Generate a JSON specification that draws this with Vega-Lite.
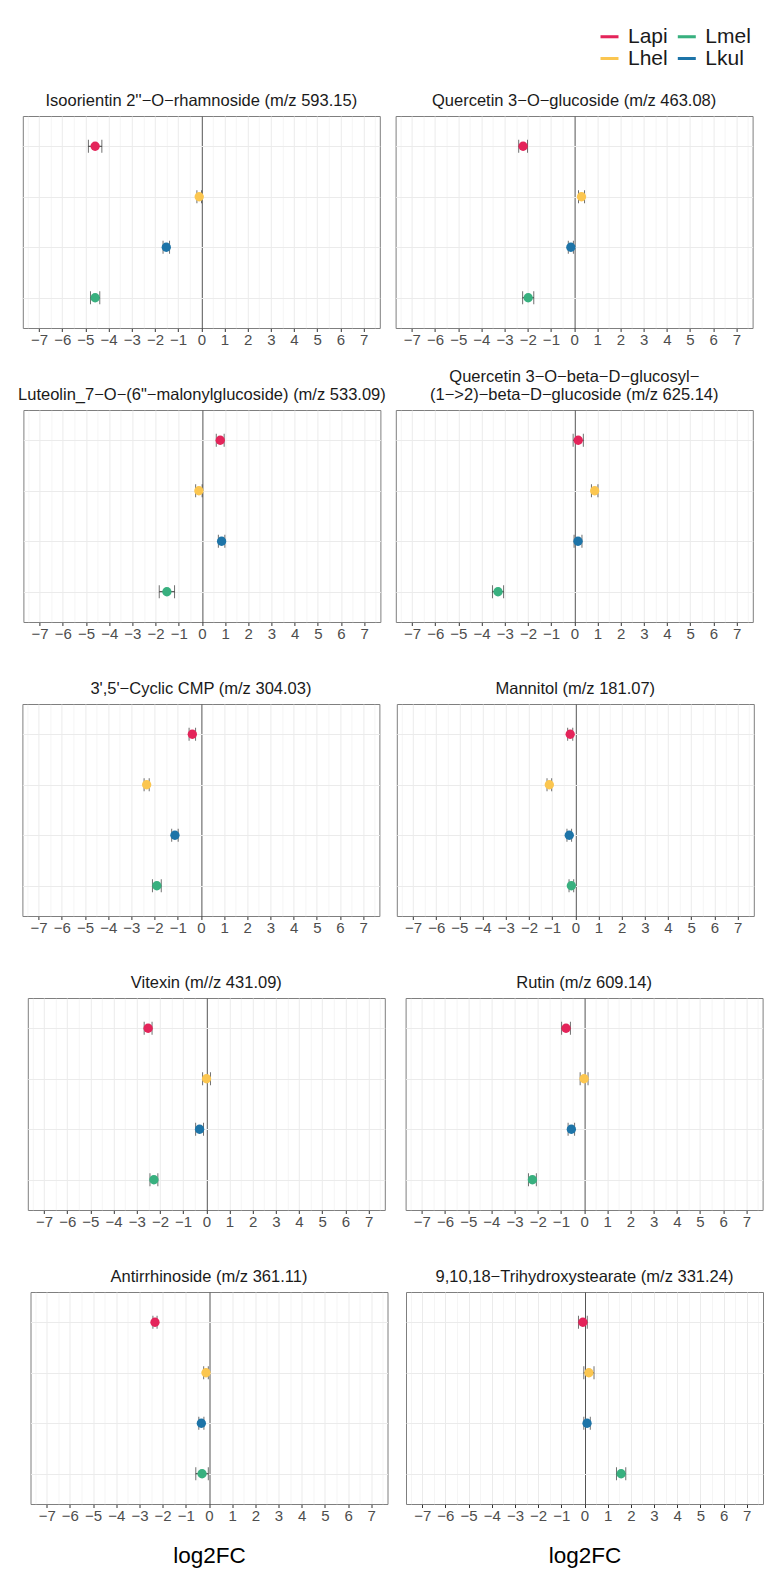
{
  "$schema": "https://vega.github.io/schema/vega-lite/v6.json",
  "background": "white",
  "padding": {"top": 26, "left": 0, "right": 0, "bottom": 0},
  "config": {
    "font": "Liberation Sans",
    "view": {"stroke": "#7f7f7f", "strokeWidth": 1},
    "title": {"fontSize": 16.5, "fontWeight": "normal", "color": "#1a1a1a", "anchor": "middle", "offset": 7, "lineHeight": 18},
    "axisX": {"labelFontSize": 15, "labelColor": "#4d4d4d", "labelPadding": 1, "labelOverlap": false, "labelFlush": false, "tickSize": 3.5, "domain": false, "titleFontSize": 22.5, "titleFontWeight": "normal", "titleColor": "#000000", "titlePadding": 21},
    "axisY": {"labels": false, "ticks": false, "domain": false, "grid": true, "gridColor": "#ebebeb", "gridWidth": 1, "minExtent": 0, "maxExtent": 0}
  },
  "datasets": {
    "fc": [
      {"p": 1, "group": "Lapi", "fc": -4.58, "lo": -4.87, "hi": -4.29},
      {"p": 1, "group": "Lhel", "fc": -0.09, "lo": -0.19, "hi": 0.01},
      {"p": 1, "group": "Lkul", "fc": -1.51, "lo": -1.65, "hi": -1.37},
      {"p": 1, "group": "Lmel", "fc": -4.58, "lo": -4.78, "hi": -4.38},
      {"p": 2, "group": "Lapi", "fc": -2.2, "lo": -2.39, "hi": -2.01},
      {"p": 2, "group": "Lhel", "fc": 0.32, "lo": 0.19, "hi": 0.45},
      {"p": 2, "group": "Lkul", "fc": -0.14, "lo": -0.25, "hi": -0.03},
      {"p": 2, "group": "Lmel", "fc": -1.98, "lo": -2.22, "hi": -1.74},
      {"p": 3, "group": "Lapi", "fc": 0.79, "lo": 0.62, "hi": 0.96},
      {"p": 3, "group": "Lhel", "fc": -0.13, "lo": -0.27, "hi": 0.01},
      {"p": 3, "group": "Lkul", "fc": 0.85, "lo": 0.71, "hi": 0.99},
      {"p": 3, "group": "Lmel", "fc": -1.51, "lo": -1.84, "hi": -1.18},
      {"p": 4, "group": "Lapi", "fc": 0.17, "lo": -0.05, "hi": 0.39},
      {"p": 4, "group": "Lhel", "fc": 0.88, "lo": 0.74, "hi": 1.02},
      {"p": 4, "group": "Lkul", "fc": 0.16, "lo": -0.01, "hi": 0.33},
      {"p": 4, "group": "Lmel", "fc": -3.29, "lo": -3.53, "hi": -3.05},
      {"p": 5, "group": "Lapi", "fc": -0.37, "lo": -0.51, "hi": -0.23},
      {"p": 5, "group": "Lhel", "fc": -2.34, "lo": -2.45, "hi": -2.23},
      {"p": 5, "group": "Lkul", "fc": -1.12, "lo": -1.26, "hi": -0.98},
      {"p": 5, "group": "Lmel", "fc": -1.9, "lo": -2.09, "hi": -1.71},
      {"p": 6, "group": "Lapi", "fc": -0.22, "lo": -0.33, "hi": -0.11},
      {"p": 6, "group": "Lhel", "fc": -1.12, "lo": -1.22, "hi": -1.02},
      {"p": 6, "group": "Lkul", "fc": -0.26, "lo": -0.36, "hi": -0.16},
      {"p": 6, "group": "Lmel", "fc": -0.17, "lo": -0.27, "hi": -0.07},
      {"p": 7, "group": "Lapi", "fc": -2.51, "lo": -2.68, "hi": -2.34},
      {"p": 7, "group": "Lhel", "fc": 0.01, "lo": -0.16, "hi": 0.18},
      {"p": 7, "group": "Lkul", "fc": -0.29, "lo": -0.46, "hi": -0.12},
      {"p": 7, "group": "Lmel", "fc": -2.26, "lo": -2.43, "hi": -2.09},
      {"p": 8, "group": "Lapi", "fc": -0.78, "lo": -0.97, "hi": -0.59},
      {"p": 8, "group": "Lhel", "fc": 0.0, "lo": -0.17, "hi": 0.17},
      {"p": 8, "group": "Lkul", "fc": -0.55, "lo": -0.69, "hi": -0.41},
      {"p": 8, "group": "Lmel", "fc": -2.23, "lo": -2.4, "hi": -2.06},
      {"p": 9, "group": "Lapi", "fc": -2.33, "lo": -2.42, "hi": -2.24},
      {"p": 9, "group": "Lhel", "fc": -0.13, "lo": -0.23, "hi": -0.03},
      {"p": 9, "group": "Lkul", "fc": -0.33, "lo": -0.44, "hi": -0.22},
      {"p": 9, "group": "Lmel", "fc": -0.3, "lo": -0.57, "hi": -0.03},
      {"p": 10, "group": "Lapi", "fc": -0.07, "lo": -0.26, "hi": 0.12},
      {"p": 10, "group": "Lhel", "fc": 0.19, "lo": -0.03, "hi": 0.41},
      {"p": 10, "group": "Lkul", "fc": 0.11, "lo": -0.03, "hi": 0.25},
      {"p": 10, "group": "Lmel", "fc": 1.58, "lo": 1.38, "hi": 1.78}
    ],
    "blank": [{"k": 0}]
  },
  "resolve": {"scale": {"color": "shared"}, "legend": {"color": "shared"}},
  "spacing": 20,
  "vconcat": [
    {
      "spacing": 13.8,
      "hconcat": [
        {"width": 7.2, "height": 212, "data": {"name": "blank"}, "mark": {"type": "point", "opacity": 0}, "encoding": {}, "view": {"stroke": null}},
        {
          "width": 357, "height": 212,
          "title": {"text": ["", "Isoorientin 2''−O−rhamnoside (m/z 593.15)"]},
          "data": {"name": "fc"},
          "transform": [{"filter": "datum.p == 1"}],
          "layer": [
            {"mark": {"type": "errorbar", "ticks": true, "size": 13, "thickness": 1, "color": "#333333"},
             "encoding": {
               "x": {"field": "lo", "type": "quantitative", "scale": {"domain": [-7.7, 7.7], "nice": false, "zero": false},
                     "axis": {"title": null, "values": [-7.5,-7,-6.5,-6,-5.5,-5,-4.5,-4,-3.5,-3,-2.5,-2,-1.5,-1,-0.5,0,0.5,1,1.5,2,2.5,3,3.5,4,4.5,5,5.5,6,6.5,7,7.5],
                              "labelExpr": "datum.value % 1 == 0 ? replace(format(datum.value, 'd'), '-', '−') : ''",
                              "tickColor": {"condition": {"test": "datum.value % 1 != 0", "value": "transparent"}, "value": "#333333"},
                              "gridColor": {"condition": {"test": "datum.value == 0", "value": "#555555"}, "value": "#ebebeb"},
                              "gridWidth": {"condition": {"test": "datum.value % 1 != 0", "value": 0.5}, "value": 1}}},
               "x2": {"field": "hi"},
               "y": {"field": "group", "type": "nominal", "sort": ["Lapi", "Lhel", "Lkul", "Lmel"], "scale": {"type": "point", "padding": 0.6}, "axis": {"title": null}}}},
            {"mark": {"type": "circle", "size": 87, "opacity": 1},
             "encoding": {
               "x": {"field": "fc", "type": "quantitative", "scale": {"domain": [-7.7, 7.7], "nice": false, "zero": false},
                     "axis": {"title": null, "values": [-7.5,-7,-6.5,-6,-5.5,-5,-4.5,-4,-3.5,-3,-2.5,-2,-1.5,-1,-0.5,0,0.5,1,1.5,2,2.5,3,3.5,4,4.5,5,5.5,6,6.5,7,7.5],
                              "labelExpr": "datum.value % 1 == 0 ? replace(format(datum.value, 'd'), '-', '−') : ''",
                              "tickColor": {"condition": {"test": "datum.value % 1 != 0", "value": "transparent"}, "value": "#333333"},
                              "gridColor": {"condition": {"test": "datum.value == 0", "value": "#555555"}, "value": "#ebebeb"},
                              "gridWidth": {"condition": {"test": "datum.value % 1 != 0", "value": 0.5}, "value": 1}}},
               "y": {"field": "group", "type": "nominal", "sort": ["Lapi", "Lhel", "Lkul", "Lmel"], "scale": {"type": "point", "padding": 0.6}, "axis": {"title": null}},
               "color": {"field": "group", "type": "nominal",
                         "scale": {"domain": ["Lapi", "Lhel", "Lmel", "Lkul"], "range": ["#E4245A", "#FBC650", "#38B07F", "#1D74A8"]},
                         "legend": {"orient": "none", "legendX": 599, "legendY": -90, "columns": 2, "title": null, "padding": 0, "values": ["Lapi", "Lhel", "Lmel", "Lkul"],
                                    "symbolType": "M-1,-0.17H1V0.17H-1Z", "symbolSize": 324, "symbolStrokeWidth": 0, "labelFontSize": 21, "labelColor": "#1a1a1a", "labelOffset": 8, "columnPadding": 8.3, "rowPadding": 0}}
             }}
          ]
        },
        {
          "width": 357, "height": 212,
          "title": {"text": ["", "Quercetin 3−O−glucoside (m/z 463.08)"]},
          "data": {"name": "fc"},
          "transform": [{"filter": "datum.p == 2"}],
          "layer": [
            {"mark": {"type": "errorbar", "ticks": true, "size": 13, "thickness": 1, "color": "#333333"},
             "encoding": {
               "x": {"field": "lo", "type": "quantitative", "scale": {"domain": [-7.7, 7.7], "nice": false, "zero": false},
                     "axis": {"title": null, "values": [-7.5,-7,-6.5,-6,-5.5,-5,-4.5,-4,-3.5,-3,-2.5,-2,-1.5,-1,-0.5,0,0.5,1,1.5,2,2.5,3,3.5,4,4.5,5,5.5,6,6.5,7,7.5],
                              "labelExpr": "datum.value % 1 == 0 ? replace(format(datum.value, 'd'), '-', '−') : ''",
                              "tickColor": {"condition": {"test": "datum.value % 1 != 0", "value": "transparent"}, "value": "#333333"},
                              "gridColor": {"condition": {"test": "datum.value == 0", "value": "#555555"}, "value": "#ebebeb"},
                              "gridWidth": {"condition": {"test": "datum.value % 1 != 0", "value": 0.5}, "value": 1}}},
               "x2": {"field": "hi"},
               "y": {"field": "group", "type": "nominal", "sort": ["Lapi", "Lhel", "Lkul", "Lmel"], "scale": {"type": "point", "padding": 0.6}, "axis": {"title": null}}}},
            {"mark": {"type": "circle", "size": 87, "opacity": 1},
             "encoding": {
               "x": {"field": "fc", "type": "quantitative", "scale": {"domain": [-7.7, 7.7], "nice": false, "zero": false},
                     "axis": {"title": null, "values": [-7.5,-7,-6.5,-6,-5.5,-5,-4.5,-4,-3.5,-3,-2.5,-2,-1.5,-1,-0.5,0,0.5,1,1.5,2,2.5,3,3.5,4,4.5,5,5.5,6,6.5,7,7.5],
                              "labelExpr": "datum.value % 1 == 0 ? replace(format(datum.value, 'd'), '-', '−') : ''",
                              "tickColor": {"condition": {"test": "datum.value % 1 != 0", "value": "transparent"}, "value": "#333333"},
                              "gridColor": {"condition": {"test": "datum.value == 0", "value": "#555555"}, "value": "#ebebeb"},
                              "gridWidth": {"condition": {"test": "datum.value % 1 != 0", "value": 0.5}, "value": 1}}},
               "y": {"field": "group", "type": "nominal", "sort": ["Lapi", "Lhel", "Lkul", "Lmel"], "scale": {"type": "point", "padding": 0.6}, "axis": {"title": null}},
               "color": {"field": "group", "type": "nominal", "legend": null}
             }}
          ]
        }
      ]
    },
    {
      "spacing": 8.4,
      "hconcat": [
        {"width": 9.0, "height": 212, "data": {"name": "blank"}, "mark": {"type": "point", "opacity": 0}, "encoding": {}, "view": {"stroke": null}},
        {
          "width": 357, "height": 212,
          "title": {"text": ["", "Luteolin_7−O−(6\"−malonylglucoside) (m/z 533.09)"]},
          "data": {"name": "fc"},
          "transform": [{"filter": "datum.p == 3"}],
          "layer": [
            {"mark": {"type": "errorbar", "ticks": true, "size": 13, "thickness": 1, "color": "#333333"},
             "encoding": {
               "x": {"field": "lo", "type": "quantitative", "scale": {"domain": [-7.7, 7.7], "nice": false, "zero": false},
                     "axis": {"title": null, "values": [-7.5,-7,-6.5,-6,-5.5,-5,-4.5,-4,-3.5,-3,-2.5,-2,-1.5,-1,-0.5,0,0.5,1,1.5,2,2.5,3,3.5,4,4.5,5,5.5,6,6.5,7,7.5],
                              "labelExpr": "datum.value % 1 == 0 ? replace(format(datum.value, 'd'), '-', '−') : ''",
                              "tickColor": {"condition": {"test": "datum.value % 1 != 0", "value": "transparent"}, "value": "#333333"},
                              "gridColor": {"condition": {"test": "datum.value == 0", "value": "#555555"}, "value": "#ebebeb"},
                              "gridWidth": {"condition": {"test": "datum.value % 1 != 0", "value": 0.5}, "value": 1}}},
               "x2": {"field": "hi"},
               "y": {"field": "group", "type": "nominal", "sort": ["Lapi", "Lhel", "Lkul", "Lmel"], "scale": {"type": "point", "padding": 0.6}, "axis": {"title": null}}}},
            {"mark": {"type": "circle", "size": 87, "opacity": 1},
             "encoding": {
               "x": {"field": "fc", "type": "quantitative", "scale": {"domain": [-7.7, 7.7], "nice": false, "zero": false},
                     "axis": {"title": null, "values": [-7.5,-7,-6.5,-6,-5.5,-5,-4.5,-4,-3.5,-3,-2.5,-2,-1.5,-1,-0.5,0,0.5,1,1.5,2,2.5,3,3.5,4,4.5,5,5.5,6,6.5,7,7.5],
                              "labelExpr": "datum.value % 1 == 0 ? replace(format(datum.value, 'd'), '-', '−') : ''",
                              "tickColor": {"condition": {"test": "datum.value % 1 != 0", "value": "transparent"}, "value": "#333333"},
                              "gridColor": {"condition": {"test": "datum.value == 0", "value": "#555555"}, "value": "#ebebeb"},
                              "gridWidth": {"condition": {"test": "datum.value % 1 != 0", "value": 0.5}, "value": 1}}},
               "y": {"field": "group", "type": "nominal", "sort": ["Lapi", "Lhel", "Lkul", "Lmel"], "scale": {"type": "point", "padding": 0.6}, "axis": {"title": null}},
               "color": {"field": "group", "type": "nominal", "legend": null}
             }}
          ]
        },
        {
          "width": 357, "height": 212,
          "title": {"text": ["Quercetin 3−O−beta−D−glucosyl−", "(1−>2)−beta−D−glucoside (m/z 625.14)"]},
          "data": {"name": "fc"},
          "transform": [{"filter": "datum.p == 4"}],
          "layer": [
            {"mark": {"type": "errorbar", "ticks": true, "size": 13, "thickness": 1, "color": "#333333"},
             "encoding": {
               "x": {"field": "lo", "type": "quantitative", "scale": {"domain": [-7.7, 7.7], "nice": false, "zero": false},
                     "axis": {"title": null, "values": [-7.5,-7,-6.5,-6,-5.5,-5,-4.5,-4,-3.5,-3,-2.5,-2,-1.5,-1,-0.5,0,0.5,1,1.5,2,2.5,3,3.5,4,4.5,5,5.5,6,6.5,7,7.5],
                              "labelExpr": "datum.value % 1 == 0 ? replace(format(datum.value, 'd'), '-', '−') : ''",
                              "tickColor": {"condition": {"test": "datum.value % 1 != 0", "value": "transparent"}, "value": "#333333"},
                              "gridColor": {"condition": {"test": "datum.value == 0", "value": "#555555"}, "value": "#ebebeb"},
                              "gridWidth": {"condition": {"test": "datum.value % 1 != 0", "value": 0.5}, "value": 1}}},
               "x2": {"field": "hi"},
               "y": {"field": "group", "type": "nominal", "sort": ["Lapi", "Lhel", "Lkul", "Lmel"], "scale": {"type": "point", "padding": 0.6}, "axis": {"title": null}}}},
            {"mark": {"type": "circle", "size": 87, "opacity": 1},
             "encoding": {
               "x": {"field": "fc", "type": "quantitative", "scale": {"domain": [-7.7, 7.7], "nice": false, "zero": false},
                     "axis": {"title": null, "values": [-7.5,-7,-6.5,-6,-5.5,-5,-4.5,-4,-3.5,-3,-2.5,-2,-1.5,-1,-0.5,0,0.5,1,1.5,2,2.5,3,3.5,4,4.5,5,5.5,6,6.5,7,7.5],
                              "labelExpr": "datum.value % 1 == 0 ? replace(format(datum.value, 'd'), '-', '−') : ''",
                              "tickColor": {"condition": {"test": "datum.value % 1 != 0", "value": "transparent"}, "value": "#333333"},
                              "gridColor": {"condition": {"test": "datum.value == 0", "value": "#555555"}, "value": "#ebebeb"},
                              "gridWidth": {"condition": {"test": "datum.value % 1 != 0", "value": 0.5}, "value": 1}}},
               "y": {"field": "group", "type": "nominal", "sort": ["Lapi", "Lhel", "Lkul", "Lmel"], "scale": {"type": "point", "padding": 0.6}, "axis": {"title": null}},
               "color": {"field": "group", "type": "nominal", "legend": null}
             }}
          ]
        }
      ]
    },
    {
      "spacing": 15.4,
      "hconcat": [
        {"width": 6.0, "height": 212, "data": {"name": "blank"}, "mark": {"type": "point", "opacity": 0}, "encoding": {}, "view": {"stroke": null}},
        {
          "width": 357, "height": 212,
          "title": {"text": ["", "3',5'−Cyclic CMP (m/z 304.03)"]},
          "data": {"name": "fc"},
          "transform": [{"filter": "datum.p == 5"}],
          "layer": [
            {"mark": {"type": "errorbar", "ticks": true, "size": 13, "thickness": 1, "color": "#333333"},
             "encoding": {
               "x": {"field": "lo", "type": "quantitative", "scale": {"domain": [-7.7, 7.7], "nice": false, "zero": false},
                     "axis": {"title": null, "values": [-7.5,-7,-6.5,-6,-5.5,-5,-4.5,-4,-3.5,-3,-2.5,-2,-1.5,-1,-0.5,0,0.5,1,1.5,2,2.5,3,3.5,4,4.5,5,5.5,6,6.5,7,7.5],
                              "labelExpr": "datum.value % 1 == 0 ? replace(format(datum.value, 'd'), '-', '−') : ''",
                              "tickColor": {"condition": {"test": "datum.value % 1 != 0", "value": "transparent"}, "value": "#333333"},
                              "gridColor": {"condition": {"test": "datum.value == 0", "value": "#555555"}, "value": "#ebebeb"},
                              "gridWidth": {"condition": {"test": "datum.value % 1 != 0", "value": 0.5}, "value": 1}}},
               "x2": {"field": "hi"},
               "y": {"field": "group", "type": "nominal", "sort": ["Lapi", "Lhel", "Lkul", "Lmel"], "scale": {"type": "point", "padding": 0.6}, "axis": {"title": null}}}},
            {"mark": {"type": "circle", "size": 87, "opacity": 1},
             "encoding": {
               "x": {"field": "fc", "type": "quantitative", "scale": {"domain": [-7.7, 7.7], "nice": false, "zero": false},
                     "axis": {"title": null, "values": [-7.5,-7,-6.5,-6,-5.5,-5,-4.5,-4,-3.5,-3,-2.5,-2,-1.5,-1,-0.5,0,0.5,1,1.5,2,2.5,3,3.5,4,4.5,5,5.5,6,6.5,7,7.5],
                              "labelExpr": "datum.value % 1 == 0 ? replace(format(datum.value, 'd'), '-', '−') : ''",
                              "tickColor": {"condition": {"test": "datum.value % 1 != 0", "value": "transparent"}, "value": "#333333"},
                              "gridColor": {"condition": {"test": "datum.value == 0", "value": "#555555"}, "value": "#ebebeb"},
                              "gridWidth": {"condition": {"test": "datum.value % 1 != 0", "value": 0.5}, "value": 1}}},
               "y": {"field": "group", "type": "nominal", "sort": ["Lapi", "Lhel", "Lkul", "Lmel"], "scale": {"type": "point", "padding": 0.6}, "axis": {"title": null}},
               "color": {"field": "group", "type": "nominal", "legend": null}
             }}
          ]
        },
        {
          "width": 357, "height": 212,
          "title": {"text": ["", "Mannitol (m/z 181.07)"]},
          "data": {"name": "fc"},
          "transform": [{"filter": "datum.p == 6"}],
          "layer": [
            {"mark": {"type": "errorbar", "ticks": true, "size": 13, "thickness": 1, "color": "#333333"},
             "encoding": {
               "x": {"field": "lo", "type": "quantitative", "scale": {"domain": [-7.7, 7.7], "nice": false, "zero": false},
                     "axis": {"title": null, "values": [-7.5,-7,-6.5,-6,-5.5,-5,-4.5,-4,-3.5,-3,-2.5,-2,-1.5,-1,-0.5,0,0.5,1,1.5,2,2.5,3,3.5,4,4.5,5,5.5,6,6.5,7,7.5],
                              "labelExpr": "datum.value % 1 == 0 ? replace(format(datum.value, 'd'), '-', '−') : ''",
                              "tickColor": {"condition": {"test": "datum.value % 1 != 0", "value": "transparent"}, "value": "#333333"},
                              "gridColor": {"condition": {"test": "datum.value == 0", "value": "#555555"}, "value": "#ebebeb"},
                              "gridWidth": {"condition": {"test": "datum.value % 1 != 0", "value": 0.5}, "value": 1}}},
               "x2": {"field": "hi"},
               "y": {"field": "group", "type": "nominal", "sort": ["Lapi", "Lhel", "Lkul", "Lmel"], "scale": {"type": "point", "padding": 0.6}, "axis": {"title": null}}}},
            {"mark": {"type": "circle", "size": 87, "opacity": 1},
             "encoding": {
               "x": {"field": "fc", "type": "quantitative", "scale": {"domain": [-7.7, 7.7], "nice": false, "zero": false},
                     "axis": {"title": null, "values": [-7.5,-7,-6.5,-6,-5.5,-5,-4.5,-4,-3.5,-3,-2.5,-2,-1.5,-1,-0.5,0,0.5,1,1.5,2,2.5,3,3.5,4,4.5,5,5.5,6,6.5,7,7.5],
                              "labelExpr": "datum.value % 1 == 0 ? replace(format(datum.value, 'd'), '-', '−') : ''",
                              "tickColor": {"condition": {"test": "datum.value % 1 != 0", "value": "transparent"}, "value": "#333333"},
                              "gridColor": {"condition": {"test": "datum.value == 0", "value": "#555555"}, "value": "#ebebeb"},
                              "gridWidth": {"condition": {"test": "datum.value % 1 != 0", "value": 0.5}, "value": 1}}},
               "y": {"field": "group", "type": "nominal", "sort": ["Lapi", "Lhel", "Lkul", "Lmel"], "scale": {"type": "point", "padding": 0.6}, "axis": {"title": null}},
               "color": {"field": "group", "type": "nominal", "legend": null}
             }}
          ]
        }
      ]
    },
    {
      "spacing": 18.8,
      "hconcat": [
        {"width": 7.6, "height": 212, "data": {"name": "blank"}, "mark": {"type": "point", "opacity": 0}, "encoding": {}, "view": {"stroke": null}},
        {
          "width": 357, "height": 212,
          "title": {"text": ["", "Vitexin (m//z 431.09)"]},
          "data": {"name": "fc"},
          "transform": [{"filter": "datum.p == 7"}],
          "layer": [
            {"mark": {"type": "errorbar", "ticks": true, "size": 13, "thickness": 1, "color": "#333333"},
             "encoding": {
               "x": {"field": "lo", "type": "quantitative", "scale": {"domain": [-7.7, 7.7], "nice": false, "zero": false},
                     "axis": {"title": null, "values": [-7.5,-7,-6.5,-6,-5.5,-5,-4.5,-4,-3.5,-3,-2.5,-2,-1.5,-1,-0.5,0,0.5,1,1.5,2,2.5,3,3.5,4,4.5,5,5.5,6,6.5,7,7.5],
                              "labelExpr": "datum.value % 1 == 0 ? replace(format(datum.value, 'd'), '-', '−') : ''",
                              "tickColor": {"condition": {"test": "datum.value % 1 != 0", "value": "transparent"}, "value": "#333333"},
                              "gridColor": {"condition": {"test": "datum.value == 0", "value": "#555555"}, "value": "#ebebeb"},
                              "gridWidth": {"condition": {"test": "datum.value % 1 != 0", "value": 0.5}, "value": 1}}},
               "x2": {"field": "hi"},
               "y": {"field": "group", "type": "nominal", "sort": ["Lapi", "Lhel", "Lkul", "Lmel"], "scale": {"type": "point", "padding": 0.6}, "axis": {"title": null}}}},
            {"mark": {"type": "circle", "size": 87, "opacity": 1},
             "encoding": {
               "x": {"field": "fc", "type": "quantitative", "scale": {"domain": [-7.7, 7.7], "nice": false, "zero": false},
                     "axis": {"title": null, "values": [-7.5,-7,-6.5,-6,-5.5,-5,-4.5,-4,-3.5,-3,-2.5,-2,-1.5,-1,-0.5,0,0.5,1,1.5,2,2.5,3,3.5,4,4.5,5,5.5,6,6.5,7,7.5],
                              "labelExpr": "datum.value % 1 == 0 ? replace(format(datum.value, 'd'), '-', '−') : ''",
                              "tickColor": {"condition": {"test": "datum.value % 1 != 0", "value": "transparent"}, "value": "#333333"},
                              "gridColor": {"condition": {"test": "datum.value == 0", "value": "#555555"}, "value": "#ebebeb"},
                              "gridWidth": {"condition": {"test": "datum.value % 1 != 0", "value": 0.5}, "value": 1}}},
               "y": {"field": "group", "type": "nominal", "sort": ["Lapi", "Lhel", "Lkul", "Lmel"], "scale": {"type": "point", "padding": 0.6}, "axis": {"title": null}},
               "color": {"field": "group", "type": "nominal", "legend": null}
             }}
          ]
        },
        {
          "width": 357, "height": 212,
          "title": {"text": ["", "Rutin (m/z 609.14)"]},
          "data": {"name": "fc"},
          "transform": [{"filter": "datum.p == 8"}],
          "layer": [
            {"mark": {"type": "errorbar", "ticks": true, "size": 13, "thickness": 1, "color": "#333333"},
             "encoding": {
               "x": {"field": "lo", "type": "quantitative", "scale": {"domain": [-7.7, 7.7], "nice": false, "zero": false},
                     "axis": {"title": null, "values": [-7.5,-7,-6.5,-6,-5.5,-5,-4.5,-4,-3.5,-3,-2.5,-2,-1.5,-1,-0.5,0,0.5,1,1.5,2,2.5,3,3.5,4,4.5,5,5.5,6,6.5,7,7.5],
                              "labelExpr": "datum.value % 1 == 0 ? replace(format(datum.value, 'd'), '-', '−') : ''",
                              "tickColor": {"condition": {"test": "datum.value % 1 != 0", "value": "transparent"}, "value": "#333333"},
                              "gridColor": {"condition": {"test": "datum.value == 0", "value": "#555555"}, "value": "#ebebeb"},
                              "gridWidth": {"condition": {"test": "datum.value % 1 != 0", "value": 0.5}, "value": 1}}},
               "x2": {"field": "hi"},
               "y": {"field": "group", "type": "nominal", "sort": ["Lapi", "Lhel", "Lkul", "Lmel"], "scale": {"type": "point", "padding": 0.6}, "axis": {"title": null}}}},
            {"mark": {"type": "circle", "size": 87, "opacity": 1},
             "encoding": {
               "x": {"field": "fc", "type": "quantitative", "scale": {"domain": [-7.7, 7.7], "nice": false, "zero": false},
                     "axis": {"title": null, "values": [-7.5,-7,-6.5,-6,-5.5,-5,-4.5,-4,-3.5,-3,-2.5,-2,-1.5,-1,-0.5,0,0.5,1,1.5,2,2.5,3,3.5,4,4.5,5,5.5,6,6.5,7,7.5],
                              "labelExpr": "datum.value % 1 == 0 ? replace(format(datum.value, 'd'), '-', '−') : ''",
                              "tickColor": {"condition": {"test": "datum.value % 1 != 0", "value": "transparent"}, "value": "#333333"},
                              "gridColor": {"condition": {"test": "datum.value == 0", "value": "#555555"}, "value": "#ebebeb"},
                              "gridWidth": {"condition": {"test": "datum.value % 1 != 0", "value": 0.5}, "value": 1}}},
               "y": {"field": "group", "type": "nominal", "sort": ["Lapi", "Lhel", "Lkul", "Lmel"], "scale": {"type": "point", "padding": 0.6}, "axis": {"title": null}},
               "color": {"field": "group", "type": "nominal", "legend": null}
             }}
          ]
        }
      ]
    },
    {
      "spacing": 16.5,
      "hconcat": [
        {"width": 12.2, "height": 212, "data": {"name": "blank"}, "mark": {"type": "point", "opacity": 0}, "encoding": {}, "view": {"stroke": null}},
        {
          "width": 357, "height": 212,
          "title": {"text": ["", "Antirrhinoside (m/z 361.11)"]},
          "data": {"name": "fc"},
          "transform": [{"filter": "datum.p == 9"}],
          "layer": [
            {"mark": {"type": "errorbar", "ticks": true, "size": 13, "thickness": 1, "color": "#333333"},
             "encoding": {
               "x": {"field": "lo", "type": "quantitative", "scale": {"domain": [-7.7, 7.7], "nice": false, "zero": false},
                     "axis": {"title": "log2FC", "values": [-7.5,-7,-6.5,-6,-5.5,-5,-4.5,-4,-3.5,-3,-2.5,-2,-1.5,-1,-0.5,0,0.5,1,1.5,2,2.5,3,3.5,4,4.5,5,5.5,6,6.5,7,7.5],
                              "labelExpr": "datum.value % 1 == 0 ? replace(format(datum.value, 'd'), '-', '−') : ''",
                              "tickColor": {"condition": {"test": "datum.value % 1 != 0", "value": "transparent"}, "value": "#333333"},
                              "gridColor": {"condition": {"test": "datum.value == 0", "value": "#555555"}, "value": "#ebebeb"},
                              "gridWidth": {"condition": {"test": "datum.value % 1 != 0", "value": 0.5}, "value": 1}}},
               "x2": {"field": "hi"},
               "y": {"field": "group", "type": "nominal", "sort": ["Lapi", "Lhel", "Lkul", "Lmel"], "scale": {"type": "point", "padding": 0.6}, "axis": {"title": null}}}},
            {"mark": {"type": "circle", "size": 87, "opacity": 1},
             "encoding": {
               "x": {"field": "fc", "type": "quantitative", "scale": {"domain": [-7.7, 7.7], "nice": false, "zero": false},
                     "axis": {"title": "log2FC", "values": [-7.5,-7,-6.5,-6,-5.5,-5,-4.5,-4,-3.5,-3,-2.5,-2,-1.5,-1,-0.5,0,0.5,1,1.5,2,2.5,3,3.5,4,4.5,5,5.5,6,6.5,7,7.5],
                              "labelExpr": "datum.value % 1 == 0 ? replace(format(datum.value, 'd'), '-', '−') : ''",
                              "tickColor": {"condition": {"test": "datum.value % 1 != 0", "value": "transparent"}, "value": "#333333"},
                              "gridColor": {"condition": {"test": "datum.value == 0", "value": "#555555"}, "value": "#ebebeb"},
                              "gridWidth": {"condition": {"test": "datum.value % 1 != 0", "value": 0.5}, "value": 1}}},
               "y": {"field": "group", "type": "nominal", "sort": ["Lapi", "Lhel", "Lkul", "Lmel"], "scale": {"type": "point", "padding": 0.6}, "axis": {"title": null}},
               "color": {"field": "group", "type": "nominal", "legend": null}
             }}
          ]
        },
        {
          "width": 357, "height": 212,
          "title": {"text": ["", "9,10,18−Trihydroxystearate (m/z 331.24)"]},
          "data": {"name": "fc"},
          "transform": [{"filter": "datum.p == 10"}],
          "layer": [
            {"mark": {"type": "errorbar", "ticks": true, "size": 13, "thickness": 1, "color": "#333333"},
             "encoding": {
               "x": {"field": "lo", "type": "quantitative", "scale": {"domain": [-7.7, 7.7], "nice": false, "zero": false},
                     "axis": {"title": "log2FC", "values": [-7.5,-7,-6.5,-6,-5.5,-5,-4.5,-4,-3.5,-3,-2.5,-2,-1.5,-1,-0.5,0,0.5,1,1.5,2,2.5,3,3.5,4,4.5,5,5.5,6,6.5,7,7.5],
                              "labelExpr": "datum.value % 1 == 0 ? replace(format(datum.value, 'd'), '-', '−') : ''",
                              "tickColor": {"condition": {"test": "datum.value % 1 != 0", "value": "transparent"}, "value": "#333333"},
                              "gridColor": {"condition": {"test": "datum.value == 0", "value": "#555555"}, "value": "#ebebeb"},
                              "gridWidth": {"condition": {"test": "datum.value % 1 != 0", "value": 0.5}, "value": 1}}},
               "x2": {"field": "hi"},
               "y": {"field": "group", "type": "nominal", "sort": ["Lapi", "Lhel", "Lkul", "Lmel"], "scale": {"type": "point", "padding": 0.6}, "axis": {"title": null}}}},
            {"mark": {"type": "circle", "size": 87, "opacity": 1},
             "encoding": {
               "x": {"field": "fc", "type": "quantitative", "scale": {"domain": [-7.7, 7.7], "nice": false, "zero": false},
                     "axis": {"title": "log2FC", "values": [-7.5,-7,-6.5,-6,-5.5,-5,-4.5,-4,-3.5,-3,-2.5,-2,-1.5,-1,-0.5,0,0.5,1,1.5,2,2.5,3,3.5,4,4.5,5,5.5,6,6.5,7,7.5],
                              "labelExpr": "datum.value % 1 == 0 ? replace(format(datum.value, 'd'), '-', '−') : ''",
                              "tickColor": {"condition": {"test": "datum.value % 1 != 0", "value": "transparent"}, "value": "#333333"},
                              "gridColor": {"condition": {"test": "datum.value == 0", "value": "#555555"}, "value": "#ebebeb"},
                              "gridWidth": {"condition": {"test": "datum.value % 1 != 0", "value": 0.5}, "value": 1}}},
               "y": {"field": "group", "type": "nominal", "sort": ["Lapi", "Lhel", "Lkul", "Lmel"], "scale": {"type": "point", "padding": 0.6}, "axis": {"title": null}},
               "color": {"field": "group", "type": "nominal", "legend": null}
             }}
          ]
        }
      ]
    }
  ]
}
